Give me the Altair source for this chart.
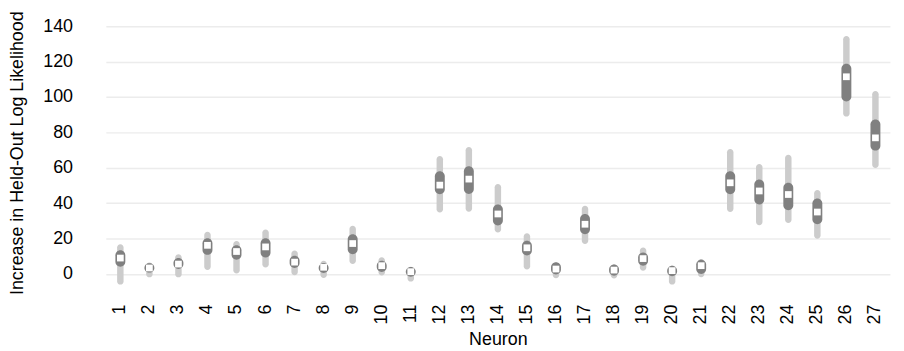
import altair as alt
import pandas as pd

neurons = list(range(1, 28))
whisker_lo = [-6.0, -1.9, -1.9, 2.2, 0.3, 3.7, -0.7, -2.2, 5.6, -0.9, -4.3, 34.7, 35.2, 23.4, 2.6, -2.4, 16.9, -2.6, 1.9, -6.0, -1.8, 35.0, 27.5, 28.8, 19.9, 88.9, 59.9]
whisker_hi = [16.8, 6.5, 11.2, 23.9, 18.6, 25.2, 13.3, 7.5, 27.2, 9.4, 4.1, 66.7, 71.7, 50.8, 23.0, 6.2, 38.6, 5.3, 14.9, 4.7, 8.4, 70.6, 62.2, 67.3, 47.5, 134.4, 103.3]
q1 = [4.1, 0.8, 2.8, 10.8, 8.0, 9.3, 3.4, 0.6, 11.2, 1.1, -1.5, 45.0, 45.2, 27.4, 10.5, -0.3, 22.5, -1.0, 4.7, -1.3, 0.0, 45.0, 39.3, 36.0, 28.1, 97.4, 69.7]
q3 = [13.4, 6.0, 9.0, 20.2, 16.2, 20.2, 10.3, 6.2, 22.5, 7.5, 3.9, 58.0, 60.9, 39.3, 18.8, 6.6, 33.9, 5.3, 12.1, 4.7, 8.1, 58.1, 53.4, 51.5, 42.7, 118.7, 87.2]
median = [9.0, 3.4, 5.6, 16.2, 12.7, 15.3, 6.7, 3.8, 17.2, 4.7, 1.3, 50.2, 53.6, 33.9, 14.8, 2.8, 28.1, 2.2, 8.7, 1.9, 4.7, 51.5, 46.9, 44.9, 35.0, 111.4, 76.9]
y_ticks = [0, 20, 40, 60, 80, 100, 120, 140]

df = pd.DataFrame({"neuron": neurons, "lo": whisker_lo, "hi": whisker_hi,
                   "q1": q1, "q3": q3, "med": median})

FONT = "Liberation Sans"
YTITLE = "Increase in Held-Out Log Likelihood"

x = alt.X("neuron:O", title="Neuron",
          scale=alt.Scale(range=[16.6, 806.9], paddingInner=0, paddingOuter=0),
          axis=alt.Axis(labelAngle=-90, labelFontSize=18, titleFontSize=18,
                        labelFont=FONT, titleFont=FONT, labelColor="#000",
                        titleColor="#000", ticks=False, domain=False,
                        labelPadding=16, titlePadding=7, titleFontWeight="normal",
                        labelBaseline="middle", labelAlign="right"))
yscale = alt.Scale(domain=[-8, 145], nice=False, zero=False)
yaxis = alt.Axis(values=y_ticks, labelFontSize=18, labelOverlap=False,
                 titleFontSize=18, labelFont=FONT, titleFont=FONT,
                 labelColor="#000", titleColor="#000", ticks=False,
                 domain=False, labelPadding=17, titlePadding=16,
                 titleFontWeight="normal", gridColor="#ececec", gridWidth=1.5)

whisk = alt.Chart(df).mark_bar(size=6.5, cornerRadius=3.25, color="#cccccc").encode(
    x=x, y=alt.Y("lo:Q", scale=yscale, title=YTITLE, axis=yaxis), y2="hi:Q")
box = alt.Chart(df).mark_bar(size=10, cornerRadius=5, color="#808080").encode(
    x=x, y=alt.Y("q1:Q", scale=yscale, title=YTITLE, axis=yaxis), y2="q3:Q")
med = alt.Chart(df).mark_square(size=46, color="#ffffff", opacity=1).encode(
    x=x, y=alt.Y("med:Q", scale=yscale, title=YTITLE, axis=yaxis))

chart = (whisk + box + med).properties(
    width=813, height=273,
    padding={"top": 1, "left": 0, "right": 0, "bottom": 3},
).configure_view(stroke=None)

chart.save("out.html", embed_options={"renderer": "svg", "actions": False})
